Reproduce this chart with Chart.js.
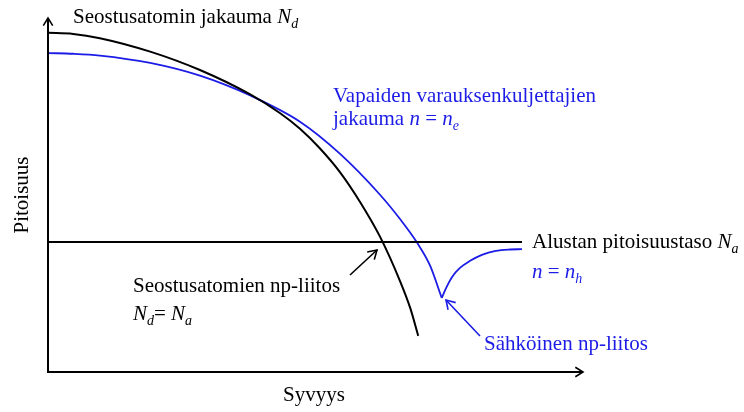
<!DOCTYPE html>
<html>
<head>
<meta charset="utf-8">
<script src="https://cdn.jsdelivr.net/npm/chart.js@4/dist/chart.umd.min.js"></script>
<style>
  html, body { margin: 0; padding: 0; background: #ffffff; }
  #wrap { width: 744px; height: 412px; }
</style>
</head>
<body>
<div id="wrap"><canvas id="c" width="744" height="412"></canvas></div>
<script>
// Depth (x) and concentration (y) in arbitrary units, axes run 0..10.
const donorDepth = [0.00, 0.47, 0.97, 1.91, 2.84, 3.78, 4.34, 4.71, 5.08, 5.46, 5.83, 6.21, 6.58, 6.77, 6.92];
const donorConc  = [9.58, 9.55, 9.43, 9.05, 8.53, 7.84, 7.31, 6.87, 6.32, 5.64, 4.81, 3.81, 2.57, 1.81, 1.02];

const electronDepth = [0.00, 0.47, 0.97, 1.91, 2.84, 3.78, 4.71, 5.46, 6.21, 6.58, 6.90, 7.14, 7.36];
const electronConc  = [9.01, 8.99, 8.94, 8.73, 8.37, 7.81, 7.07, 6.16, 5.00, 4.32, 3.65, 3.01, 2.09];

const holeDepth = [7.36, 7.44, 7.55, 7.70, 7.89, 8.11, 8.37, 8.64, 8.86];
const holeConc  = [2.09, 2.37, 2.68, 2.94, 3.14, 3.31, 3.42, 3.46, 3.47];

const substrateDepth = [0, 8.86];
const substrateLevel = 3.67;

const BLACK = '#000000';
const BLUE = '#1c1ce6';
const FONT = '"Liberation Serif", "Times New Roman", serif';

const pts = (xs, ys) => xs.map((x, i) => ({ x, y: Array.isArray(ys) ? ys[i] : ys }));

// Draw a run of text pieces, some italic, some as subscripts.
function richText(ctx, parts, x, y, size) {
  let cx = x;
  for (const p of parts) {
    const s = p.sub ? Math.round(size * 0.68) : size;
    ctx.font = (p.italic ? 'italic ' : '') + s + 'px ' + FONT;
    ctx.fillText(p.t, cx, y + (p.sub ? size * 0.24 : 0));
    cx += ctx.measureText(p.t).width;
  }
}

function arrowHead(ctx, x0, y0, x1, y1, len) {
  const a = Math.atan2(y1 - y0, x1 - x0);
  const w = 0.55;
  ctx.beginPath();
  ctx.moveTo(x1 - len * Math.cos(a - w), y1 - len * Math.sin(a - w));
  ctx.lineTo(x1, y1);
  ctx.lineTo(x1 - len * Math.cos(a + w), y1 - len * Math.sin(a + w));
  ctx.stroke();
}

function arrow(ctx, x0, y0, x1, y1, len) {
  ctx.beginPath();
  ctx.moveTo(x0, y0);
  ctx.lineTo(x1, y1);
  ctx.stroke();
  arrowHead(ctx, x0, y0, x1, y1, len);
}

const annotations = {
  id: 'annotations',
  beforeDraw(chart) {
    const ctx = chart.ctx;
    ctx.save();
    ctx.fillStyle = '#ffffff';
    ctx.fillRect(0, 0, chart.width, chart.height);
    ctx.restore();
  },
  afterDatasetsDraw(chart) {
    const ctx = chart.ctx;
    const xs = chart.scales.x, ys = chart.scales.y;
    const X = v => xs.getPixelForValue(v);
    const Y = v => ys.getPixelForValue(v);
    const size = 21;

    ctx.save();
    ctx.lineCap = 'butt';
    ctx.lineJoin = 'miter';

    // Axes with open arrow heads
    ctx.strokeStyle = BLACK;
    ctx.lineWidth = 2;
    ctx.beginPath();
    ctx.moveTo(X(0), Y(10));
    ctx.lineTo(X(0), Y(0));
    ctx.lineTo(X(10), Y(0));
    ctx.stroke();
    ctx.lineWidth = 1.6;
    arrowHead(ctx, X(0), Y(0), X(0), Y(10), 9);
    arrowHead(ctx, X(0), Y(0), X(10), Y(0), 9);

    // Pointer arrows to the two junctions
    ctx.lineWidth = 1.6;
    ctx.strokeStyle = BLACK;
    arrow(ctx, 350, 275, 377, 250, 10);
    ctx.strokeStyle = BLUE;
    arrow(ctx, 480, 336, 446, 300, 10);

    ctx.textBaseline = 'alphabetic';
    ctx.textAlign = 'left';

    // Black labels
    ctx.fillStyle = BLACK;
    richText(ctx, [{ t: 'Seostusatomin jakauma ' }, { t: 'N', italic: true }, { t: 'd', italic: true, sub: true }], 73, 23, size);
    richText(ctx, [{ t: 'Alustan pitoisuustaso ' }, { t: 'N', italic: true }, { t: 'a', italic: true, sub: true }], 532, 248, size);
    richText(ctx, [{ t: 'Seostusatomien np-liitos' }], 133, 292, size);
    richText(ctx, [{ t: 'N', italic: true }, { t: 'd', italic: true, sub: true }, { t: '= ' }, { t: 'N', italic: true }, { t: 'a', italic: true, sub: true }], 133, 320, size);
    richText(ctx, [{ t: 'Syvyys' }], 283, 401, size);

    ctx.save();
    ctx.translate(28, 195);
    ctx.rotate(-Math.PI / 2);
    ctx.textAlign = 'center';
    ctx.font = size + 'px ' + FONT;
    ctx.fillText('Pitoisuus', 0, 0);
    ctx.restore();

    // Blue labels
    ctx.fillStyle = BLUE;
    richText(ctx, [{ t: 'Vapaiden varauksenkuljettajien' }], 333, 102, size);
    richText(ctx, [{ t: 'jakauma ' }, { t: 'n', italic: true }, { t: ' = ' }, { t: 'n', italic: true }, { t: 'e', italic: true, sub: true }], 333, 125, size);
    richText(ctx, [{ t: 'n', italic: true }, { t: ' = ' }, { t: 'n', italic: true }, { t: 'h', italic: true, sub: true }], 532, 278, size);
    richText(ctx, [{ t: 'Sähköinen np-liitos' }], 484, 350, size);

    ctx.restore();
  }
};

const lineStyle = (color, width, smooth) => ({
  borderColor: color,
  borderWidth: width,
  pointRadius: 0,
  fill: false,
  tension: smooth ? 0.4 : 0,
  cubicInterpolationMode: smooth ? 'monotone' : 'default'
});

new Chart(document.getElementById('c'), {
  type: 'line',
  data: {
    datasets: [
      Object.assign({ label: 'Alustan pitoisuustaso', data: pts(substrateDepth, substrateLevel) }, lineStyle(BLACK, 2, false)),
      Object.assign({ label: 'Seostusatomin jakauma', data: pts(donorDepth, donorConc) }, lineStyle(BLACK, 2, true)),
      Object.assign({ label: 'n = ne', data: pts(electronDepth, electronConc) }, lineStyle(BLUE, 1.8, true)),
      Object.assign({ label: 'n = nh', data: pts(holeDepth, holeConc) }, lineStyle(BLUE, 1.8, true))
    ]
  },
  options: {
    responsive: false,
    animation: false,
    events: [],
    layout: { padding: { left: 48, right: 161, top: 18, bottom: 40 } },
    plugins: { legend: { display: false }, tooltip: { enabled: false }, title: { display: false } },
    scales: {
      x: { type: 'linear', min: 0, max: 10, display: false },
      y: { type: 'linear', min: 0, max: 10, display: false }
    }
  },
  plugins: [annotations]
});
</script>
</body>
</html>
